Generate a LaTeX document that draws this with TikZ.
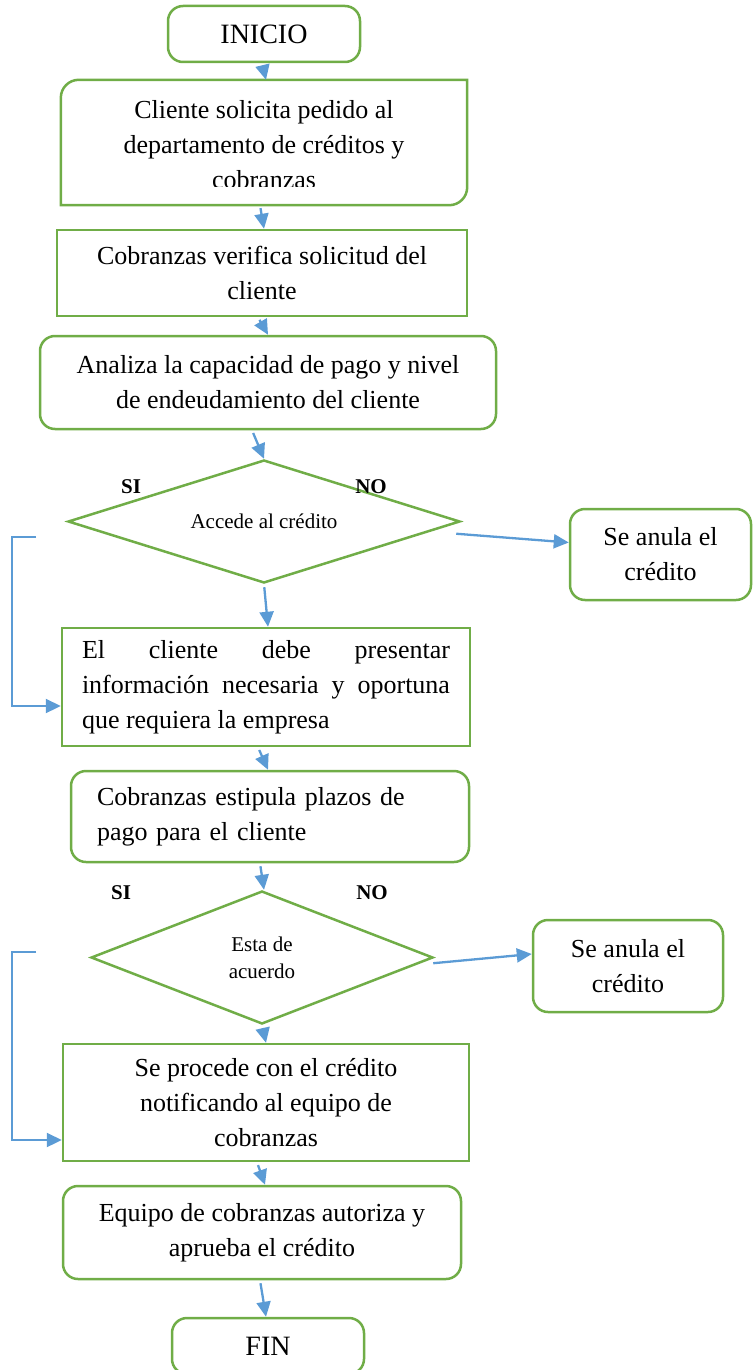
\documentclass[tikz,border=0pt]{standalone}
\usepackage{fontspec}
\setmainfont{Liberation Serif}
\usepackage{tikz}
\usetikzlibrary{shapes.geometric,arrows.meta}
\definecolor{flowgreen}{HTML}{70AD47}
\definecolor{flowblue}{HTML}{5B9BD5}
\newcommand{\boxfont}{\fontsize{26}{35}\selectfont}
\newcommand{\termfont}{\fontsize{28}{34}\selectfont}
\newcommand{\decfont}{\fontsize{21}{27}\selectfont}
\tikzset{
  flowbox/.style={draw=flowgreen, line width=2.5pt, align=center, font=\boxfont, inner sep=2pt},
  roundbox/.style={flowbox, rounded corners=15pt},
  decision/.style={diamond, draw=flowgreen, line width=2.5pt, align=center, font=\decfont, inner sep=0pt},
  link/.style={draw=flowblue, line width=2.3pt, -{Triangle[length=15pt,width=14pt]}, shorten <=3pt},
  answer/.style={font=\decfont\bfseries},
}

\begin{document}
\begin{tikzpicture}[x=1pt,y=1pt]
                \useasboundingbox (0,0) rectangle (753,-1370);
                \node[roundbox, minimum width=192pt, minimum height=56pt, font=\termfont] (ini) at (264,-34) {INICIO};
                \node[minimum width=406pt, minimum height=125pt] (cli) at (264,-142.5) {};
                \draw[draw=flowgreen, line width=2.5pt] (cli.north east) -- ([xshift=18pt]cli.north west) arc[start angle=90, end angle=180, radius=18pt] -- (cli.south west) -- ([xshift=-18pt]cli.south east) arc[start angle=270, end angle=360, radius=18pt] -- cycle;
                \begin{scope}
                \clip (61,-80) rectangle (467,-186);
                \node[align=center, font=\boxfont] (clitext) at (264,-145) {Cliente solicita pedido al\\departamento de créditos y\\cobranzas};
                \end{scope}
                \node[flowbox, minimum width=410pt, minimum height=86pt] (ver) at (262,-273) {Cobranzas verifica solicitud del\\cliente};
                \node[roundbox, minimum width=456pt, minimum height=93pt] (ana) at (268,-382.5) {Analiza la capacidad de pago y nivel\\de endeudamiento del cliente};
                \node[decision, aspect=3.2, minimum width=392pt, minimum height=123pt] (acc) at (264,-521.5) {Accede al crédito};
                \node[answer] (si1) at (131,-487) {SI};
                \node[answer] (no1) at (371,-487) {NO};
                \node[roundbox, minimum width=181pt, minimum height=91pt] (anu1) at (660.5,-554.5) {Se anula el\\crédito};
                \node[flowbox, minimum width=408pt, minimum height=118pt, text width=368pt, align=justify] (pres) at (266,-687) {El cliente debe presentar\linebreak información necesaria y oportuna\linebreak que requiera la empresa\par};
                \node[roundbox, minimum width=398pt, minimum height=91pt, text width=346pt, align=left] (est) at (270,-816.5) {Cobranzas estipula plazos de\\pago para el cliente};
                \node[answer] (si2) at (121,-893) {SI};
                \node[answer] (no2) at (372,-893) {NO};
                \node[decision, aspect=2.57, minimum width=342pt, minimum height=133pt] (acu) at (262,-957.5) {Esta de\\acuerdo};
                \node[roundbox, minimum width=190pt, minimum height=92pt] (anu2) at (628,-966) {Se anula el\\crédito};
                \node[flowbox, minimum width=406pt, minimum height=117pt] (proc) at (266,-1102.5) {Se procede con el crédito\\notificando al equipo de\\cobranzas};
                \node[roundbox, minimum width=398pt, minimum height=93pt] (equ) at (262,-1232.5) {Equipo de cobranzas autoriza y\\aprueba el crédito};
                \node[roundbox, minimum width=192pt, minimum height=56pt, font=\termfont] (fin) at (268,-1346) {FIN};
                \draw[link] ([xshift=-2pt]ini.south) -- ([xshift=2pt]cli.north);
                \draw[link] ([xshift=-4pt]cli.south) -- ([xshift=2pt]ver.north);
                \draw[link] ([xshift=-4pt]ver.south) -- (ana.north);
                \draw[link] ([xshift=-16pt]ana.south) -- (acc.north);
                \draw[link] ([xshift=-8pt,yshift=-12pt]acc.east) -- ([yshift=12pt]anu1.west);
                \draw[link] (acc.south) -- ([xshift=2pt]pres.north);
                \draw[link] ([xshift=-8pt]pres.south) -- ([xshift=-2pt]est.north);
                \draw[link] ([xshift=-10pt]est.south) -- ([xshift=2pt]acu.north);
                \draw[link] ([xshift=-4pt,yshift=-6pt]acu.east) -- ([yshift=12pt]anu2.west);
                \draw[link] (acu.south) -- (proc.north);
                \draw[link] ([xshift=-9pt]proc.south) -- ([xshift=3pt]equ.north);
                \draw[link] ([xshift=-2pt]equ.south) -- ([xshift=-2pt]fin.north);
                \coordinate (ret1) at (36,-537);
                \coordinate (ret2) at (36,-952);
                \draw[link, shorten <=0pt] (ret1) -- ++(-24pt,0) |- ([yshift=-19pt]pres.west);
                \draw[link, shorten <=0pt] (ret2) -- ++(-24pt,0) |- ([yshift=-37.5pt]proc.west);
            \end{tikzpicture}
\end{document}
